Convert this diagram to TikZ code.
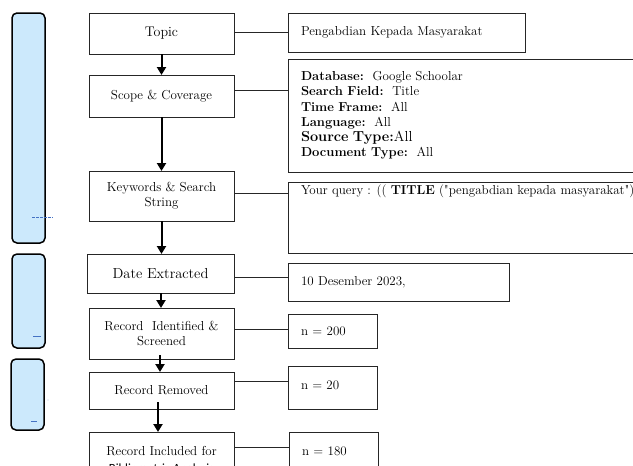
\documentclass[tikz,border=0pt]{standalone}
\usepackage{fontspec}
\newfontfamily\carlito{Carlito}
\usetikzlibrary{arrows.meta,calc}
\definecolor{barblue}{HTML}{CCE9FC}
\definecolor{dashblue}{HTML}{4472C4}
\begin{document}
\begin{tikzpicture}[x=1pt,y=-1pt,
  box/.style={draw=black!85, line width=0.9pt, inner sep=0pt, outer sep=0pt, align=center, font=\fontsize{13}{15}\selectfont},
  rbox/.style={draw=black!85, line width=0.9pt, inner ysep=0pt, inner xsep=13pt, outer sep=0pt, anchor=north west, align=left, font=\fontsize{13}{15.2}\selectfont},
  txt/.style={inner sep=0pt, outer sep=0pt},
  flow/.style={line width=2pt, -{Triangle[width=9pt,length=8pt]}},
  link/.style={line width=0.9pt, black!85},
  bar/.style={draw=black, line width=1.5pt, fill=barblue, rounded corners=5pt},
  bluedash/.style={draw=dashblue, line width=0.6pt}
]
\useasboundingbox (0,0) rectangle (633,466);
\clip (0,0) rectangle (633,466);
\fill[white] (0,0) rectangle (633,466);

% side bars
\draw[bar] (12,13) rectangle (45,243);
\draw[bar] (12,254) rectangle (45,348);
\draw[bar] (11,359) rectangle (44,430);
\draw[bluedash, dashed, dash pattern=on 3pt off 1pt] (32,217) -- (53,217);
\draw[bluedash] (33,336) -- (41,336);
\draw[bluedash] (31,421) -- (37,421);
\fill[dashblue] (48,400) circle (0.4pt);

% left column
\node[box, minimum width=145pt, minimum height=41pt, font=\fontsize{14}{16}\selectfont] (topic) at (161.5,33.5) {Topic};
\node[box, minimum width=145pt, minimum height=42pt] (scope) at (161.5,96) {Scope \& Coverage};
\node[box, minimum width=145pt, minimum height=50pt] (kw) at (161.5,196) {Keywords \& Search\\String};
\node[box, minimum width=147pt, minimum height=39pt, font=\fontsize{14.5}{16}\selectfont] (date) at (160.5,273.5) {Date Extracted};
\node[box, minimum width=145pt, minimum height=51pt] (rid) at (161.5,333.5) {Record\ \ Identified \&\\Screened};
\node[box, minimum width=145pt, minimum height=37pt] (rem) at (161.5,390.5) {Record Removed};
\node[box, minimum width=145pt, minimum height=68pt] (inc) at (161.5,466) {};
\node[txt, font=\fontsize{13}{15}\selectfont] (inct1) at (161.5,451) {Record Included for};
\node[txt, font=\carlito\fontsize{12.5}{14}\selectfont] (inct2) at (161.5,469) {Bibliometric Analysis};

% right column
\node[rbox, minimum width=237pt, minimum height=39pt, text width=211pt] (peng) at (288,13) {Pengabdian Kepada Masyarakat};
\node[rbox, minimum width=362pt, minimum height=113pt, text width=336pt] (db) at (288,59) {%
\textbf{Database:}\ \ Google Schoolar\\
\textbf{Search Field:}\ \ Title\\
\textbf{Time Frame:}\ \ All\\
\textbf{Language:}\ \ All\\
{\fontsize{14.5}{15.2}\selectfont\textbf{Source Type:}All}\\
\textbf{Document Type:}\ \ All};
\node[rbox, minimum width=362pt, minimum height=71pt, text width=336pt] (q) at (288,182) {};
\node[txt, anchor=west, font=\fontsize{13}{15}\selectfont] (qt) at (301,191.5) {Your query : ((\ \textbf{TITLE} (\textquotedbl pengabdian kepada masyarakat\textquotedbl))};
\node[rbox, minimum width=221pt, minimum height=38pt, text width=195pt] (dt) at (288,263) {10 Desember 2023,};
\node[rbox, minimum width=89pt, minimum height=34pt, text width=63pt] (n200) at (288,314) {n = 200};
\node[rbox, minimum width=89pt, minimum height=43pt, text width=63pt] (n20) at (288,366) {};
\node[txt, anchor=west, font=\fontsize{13}{15}\selectfont] (n20t) at (301,385) {n = 20};
\node[rbox, minimum width=89pt, minimum height=38pt, text width=63pt] (n180) at (289,432) {n = 180};

% flow arrows
\draw[flow] (topic.south) -- (scope.north);
\draw[flow] (scope.south) -- (kw.north);
\draw[flow] (kw.south) -- (kw.south |- date.north);
\draw[flow] ($(date.south)+(0.5,0)$) -- ($(rid.north)+(-0.5,0)$);
\draw[flow] ($(rid.south)+(-1.5,-4)$) -- ($(rem.north)+(-1.5,0)$);
\draw[flow] ($(rem.south)+(-3.5,-7)$) -- ($(inc.north)+(-3.5,0)$);

% links
\draw[link] ($(topic.east)+(0,-1.5)$) -- ($(peng.west |- topic.east)+(0,-1.5)$);
\draw[link] ($(scope.east)+(0,-6)$) -- ($(db.west |- scope.east)+(0,-6)$);
\draw[link] ($(kw.east)+(0,-3)$) -- ($(q.west |- kw.east)+(0,-3)$);
\draw[link] ($(date.east)+(0,3.5)$) -- ($(dt.west |- date.east)+(0,3.5)$);
\draw[link] ($(rid.east)+(0,-4.5)$) -- ($(n200.west |- rid.east)+(0,-4.5)$);
\draw[link] ($(rem.east)+(0,-9.5)$) -- ($(n20.west |- rem.east)+(0,-9.5)$);
\draw[link] ($(inc.east)+(0,-19)$) -- ($(n180.west |- inc.east)+(0,-19)$);
\end{tikzpicture}
\end{document}
